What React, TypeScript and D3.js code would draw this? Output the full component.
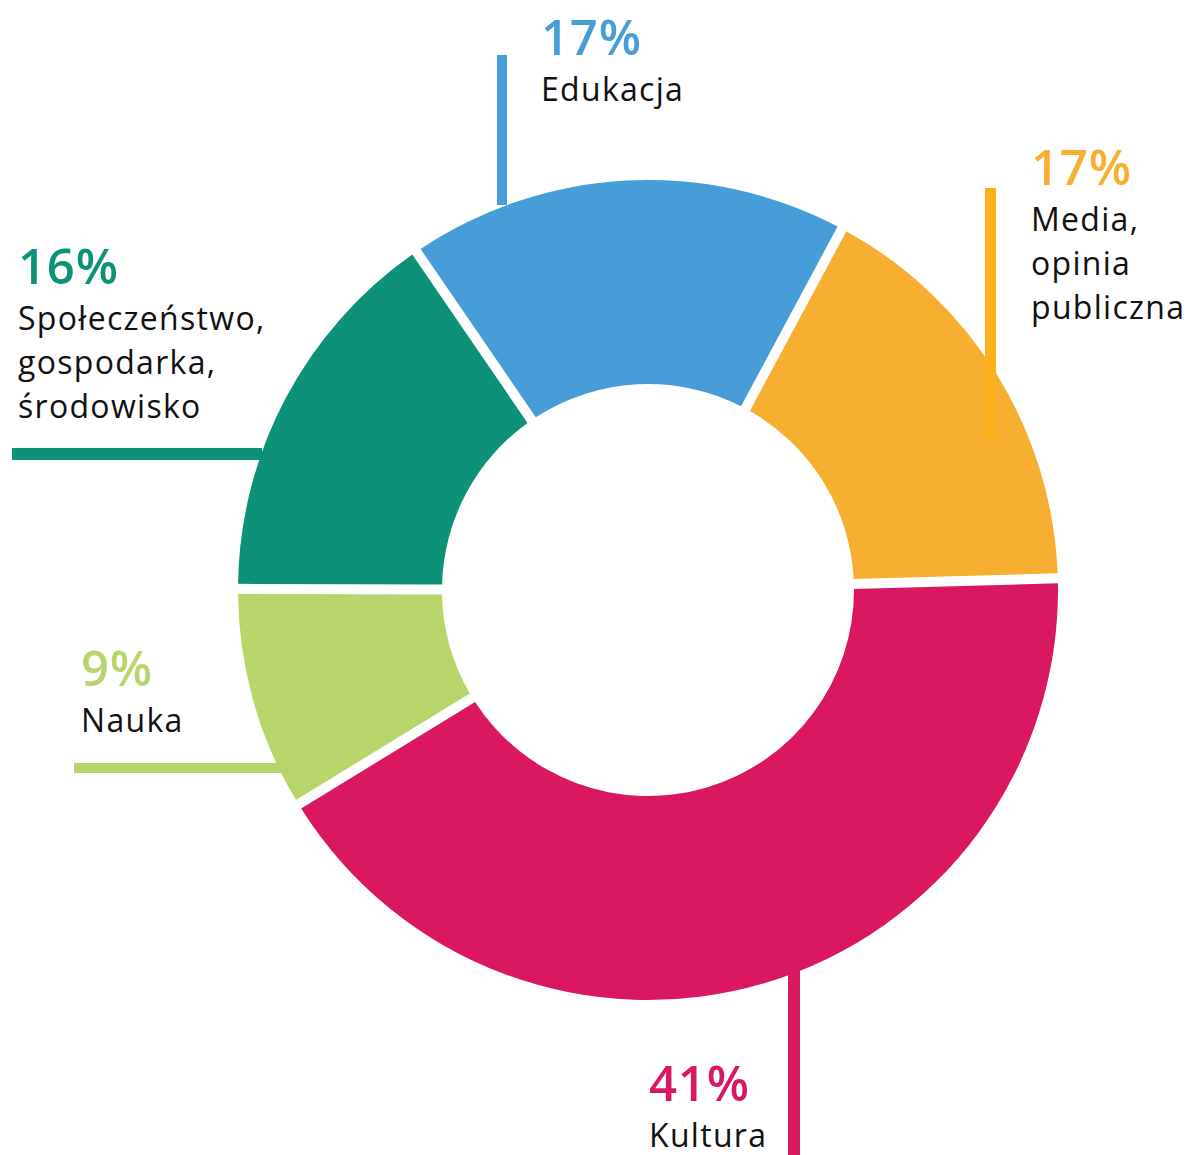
import React from 'react';
import * as d3 from 'd3';

// shares (labels are the rounded figures printed on the chart)
const categories = ["Edukacja", "Media, opinia publiczna", "Kultura", "Nauka", "Społeczeństwo, gospodarka, środowisko"];
const shares = [17.4, 16.7, 41.7, 8.8, 15.4];
const percentLabels = ["17%", "17%", "41%", "9%", "16%"];
const labelLines = [["Edukacja"], ["Media,", "opinia", "publiczna"], ["Kultura"], ["Nauka"], ["Społeczeństwo,", "gospodarka,", "środowisko"]];
const colors = ["#479DD7", "#F7AF31", "#DA1862", "#B8D56B", "#0E9179"];
const lineColors = ["#479ED8", "#FCB01C", "#DA1862", "#B8D56B", "#0E9179"];

const W = 1194;
const H = 1155;
const cx = 648;
const cy = 590;
const outerR = 410;
const innerR = 206;
const gap = 10;

// label placement: text anchor + leader line
const layout = [
  { tx: 541, ty: 55, line: [502, 55, 502, 205], lw: 10 },
  { tx: 1031, ty: 185, line: [990.5, 188, 990.5, 440], lw: 11 },
  { tx: 649, ty: 1101, line: [794, 910, 794, 1155], lw: 12 },
  { tx: 81, ty: 686, line: [74, 768, 308, 768], lw: 10 },
  { tx: 18, ty: 284, line: [12, 454, 262, 454], lw: 12 },
];

const App: React.FC = () => {
  const pie = d3.pie<number>()
    .sort(null)
    .value(d => d)
    .startAngle((-34.4 * Math.PI) / 180)
    .endAngle((-34.4 * Math.PI) / 180 + 2 * Math.PI);

  const arc = d3.arc<d3.PieArcDatum<number>>()
    .innerRadius(innerR)
    .outerRadius(outerR)
    .padRadius(outerR)
    .padAngle(gap / outerR);

  const arcs = pie(shares);

  return (
    <svg width={W} height={H} style={{ position: 'absolute', left: 0, top: 0, background: '#fff' }}
      fontFamily="'Open Sans', 'Noto Sans', sans-serif">
      <g transform={`translate(${cx},${cy})`}>
        {arcs.map((a, i) => (
          <path key={categories[i]} d={arc(a) || ''} fill={colors[i]} />
        ))}
      </g>
      {layout.map((l, i) => (
        <line key={'l' + i} x1={l.line[0]} y1={l.line[1]} x2={l.line[2]} y2={l.line[3]}
          stroke={lineColors[i]} strokeWidth={l.lw} />
      ))}
      {layout.map((l, i) => (
        <g key={'t' + i}>
          <text x={l.tx} y={l.ty} fill={colors[i]} fontSize={49} fontWeight={600} letterSpacing={0.8}>{percentLabels[i]}</text>
          {labelLines[i].map((s, j) => (
            <text key={j} x={l.tx} y={l.ty + 46 + j * 44} fill="#111" fontSize={32} letterSpacing={1.3}>{s}</text>
          ))}
        </g>
      ))}
    </svg>
  );
};

export default App;
